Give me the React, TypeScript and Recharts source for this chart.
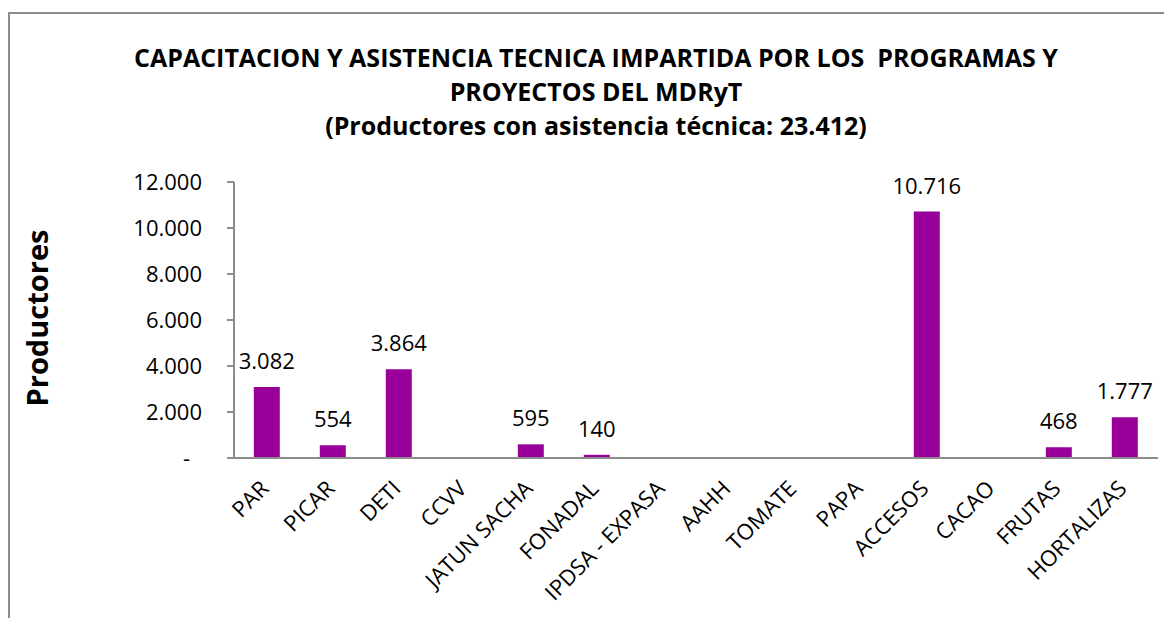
import React from 'react';
import { BarChart, Bar, XAxis, YAxis, LabelList } from 'recharts';

const categories = ['PAR', 'PICAR', 'DETI', 'CCVV', 'JATUN SACHA', 'FONADAL', 'IPDSA - EXPASA', 'AAHH', 'TOMATE', 'PAPA', 'ACCESOS', 'CACAO', 'FRUTAS', 'HORTALIZAS'];
const productores = [3082, 554, 3864, 0, 595, 140, 0, 0, 0, 0, 10716, 0, 468, 1777];
const yTicks = [0, 2000, 4000, 6000, 8000, 10000, 12000];
const titleLines = [
  'CAPACITACION Y ASISTENCIA TECNICA IMPARTIDA POR LOS  PROGRAMAS Y',
  'PROYECTOS DEL MDRyT',
  '(Productores con asistencia técnica: 23.412)',
];
const yAxisTitle = 'Productores';

const data = categories.map((c, i) => ({ name: c, value: productores[i] }));

const FONT = '"Open Sans", sans-serif';

const fmt = (v: number) => {
  if (!v) return '';
  return String(v).replace(/\B(?=(\d{3})+(?!\d))/g, '.');
};

const YTick = (props: any) => {
  const { x, y, payload } = props;
  const v = payload.value;
  if (v === 0) {
    return (
      <text x={x - 12} y={y} dy={8} textAnchor="end" fontSize={22} fontFamily={FONT} fill="#000">-</text>
    );
  }
  return (
    <text x={x} y={y} dy={8} textAnchor="end" fontSize={22} fontFamily={FONT} fill="#000">{fmt(v)}</text>
  );
};

const XTick = (props: any) => {
  const { x, y, payload } = props;
  const ax = x + 3;
  const ay = y + 24;
  return (
    <text x={ax} y={ay} textAnchor="end" fontSize={22} fontFamily={FONT} fill="#000" transform={`rotate(-45, ${ax}, ${ay})`}>
      {payload.value}
    </text>
  );
};

export default function App() {
  return (
    <div style={{ position: 'relative', width: 1172, height: 626, margin: -8, overflow: 'hidden', background: '#fff' }}>
      <div style={{ position: 'absolute', left: 8, top: 12, width: 1250, height: 700, border: '2px solid #8c8c8c', boxSizing: 'border-box' }} />
      <div style={{ position: 'absolute', left: 0, top: 0 }}>
        <BarChart width={1172} height={626} data={data} margin={{ top: 182, right: 14, bottom: 0, left: 0 }} barCategoryGap="30%">
          <XAxis dataKey="name" height={168} interval={0} tickLine={false} axisLine={{ stroke: '#8c8c8c', strokeWidth: 2 }} tick={<XTick />} />
          <YAxis width={234} domain={[0, 12000]} ticks={yTicks} interval={0} tickSize={7} tickMargin={25} tickLine={{ stroke: '#8c8c8c', strokeWidth: 2 }} axisLine={{ stroke: '#8c8c8c', strokeWidth: 2 }} tick={<YTick />} />
          <Bar dataKey="value" fill="#990099" isAnimationActive={false}>
            <LabelList dataKey="value" position="top" offset={18} formatter={(v: any) => fmt(Number(v))} style={{ fontSize: 22, fontFamily: FONT, fill: '#000' }} />
          </Bar>
        </BarChart>
      </div>
      {titleLines.map((t, i) => (
        <div key={i} style={{ position: 'absolute', left: 0, width: 1192, top: 40 + i * 34, textAlign: 'center', fontFamily: FONT, fontWeight: 'bold', fontSize: 25, lineHeight: '34px', whiteSpace: 'pre', color: '#000' }}>
          {t}
        </div>
      ))}
      <div style={{ position: 'absolute', left: 36, top: 318, transform: 'translate(-50%, -50%) rotate(-90deg)', fontFamily: FONT, fontWeight: 'bold', fontSize: 29, whiteSpace: 'nowrap', color: '#000' }}>
        {yAxisTitle}
      </div>
    </div>
  );
}
